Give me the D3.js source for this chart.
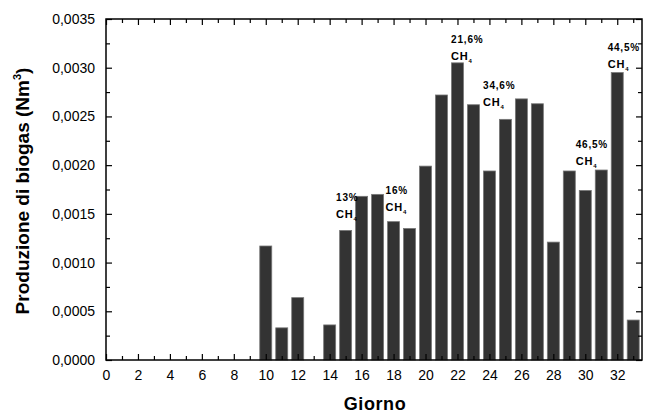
<!DOCTYPE html>
<html>
<head>
<meta charset="utf-8">
<script src="https://cdn.jsdelivr.net/npm/d3@7"></script>
<style>
  body { margin: 0; background: #fff; }
  text { font-family: "Liberation Sans", Arial, sans-serif; }
</style>
</head>
<body>
<div id="chart"></div>
<script>
// giorni e produzione di biogas (Nm3)
const days = [10, 11, 12, 13, 14, 15, 16, 17, 18, 19, 20, 21, 22, 23, 24, 25, 26, 27, 28, 29, 30, 31, 32, 33];
const biogas = [0.00117, 0.00033, 0.00064, 0, 0.00036, 0.00133, 0.00168, 0.00170, 0.00142, 0.00135,
                0.00199, 0.00272, 0.00305, 0.00262, 0.00194, 0.00247, 0.00268, 0.00263, 0.00121,
                0.00194, 0.00174, 0.00195, 0.00295, 0.00041];
const xTicks = d3.range(0, 34, 2);
const yTicks = d3.range(0, 0.00351, 0.0005);
// annotazioni percentuale CH4 (posizione in unità dei dati)
const noteText = ["13%", "16%", "21,6%", "34,6%", "46,5%", "44,5%"];
const noteDay = [14.4, 17.5, 21.6, 23.6, 29.4, 31.4];
const noteVal = [0.00163, 0.00170, 0.00325, 0.00278, 0.00218, 0.00317];

const W = 649, H = 415;
const margin = {top: 19, right: 7, bottom: 55, left: 106};
const width = W - margin.left - margin.right,
      height = H - margin.top - margin.bottom;

const svg = d3.select("#chart").append("svg")
    .attr("width", W).attr("height", H);
const g = svg.append("g")
    .attr("transform", "translate(" + margin.left + "," + margin.top + ")");

const x = d3.scaleLinear().domain([0, 33.55]).range([0, width]);
const y = d3.scaleLinear().domain([0, 0.0035]).range([height, 0]);
const bw = x(0.75) - x(0);

// barre
g.selectAll("rect.bar")
    .data(days.map((d, i) => ({day: d, v: biogas[i]})).filter(d => d.v > 0))
    .enter().append("rect")
    .attr("class", "bar")
    .attr("x", d => x(d.day) - bw / 2)
    .attr("y", d => y(d.v))
    .attr("width", bw)
    .attr("height", d => height - y(d.v))
    .attr("fill", "#333")
    .attr("stroke", "#777")
    .attr("stroke-width", 0.8);

// cornice
g.append("rect")
    .attr("width", width).attr("height", height)
    .attr("fill", "none").attr("stroke", "#000").attr("stroke-width", 1.5);

const fmt = d => d3.format(".4f")(d).replace(".", ",");
const minorX = d3.range(1, 34, 2);
const minorY = d3.range(0.00025, 0.0035, 0.0005);

// assi inferiore e sinistro con tacche interne
g.append("g").attr("transform", "translate(0," + height + ")")
    .call(d3.axisBottom(x).tickValues(xTicks).tickSize(-6).tickPadding(10).tickFormat(d3.format("d")));
g.append("g").attr("transform", "translate(0," + height + ")")
    .call(d3.axisBottom(x).tickValues(minorX).tickSize(-4).tickFormat(""));
g.append("g")
    .call(d3.axisLeft(y).tickValues(yTicks).tickSize(-6).tickPadding(11).tickFormat(fmt));
g.append("g")
    .call(d3.axisLeft(y).tickValues(minorY).tickSize(-4).tickFormat(""));
// assi superiore e destro
g.append("g")
    .call(d3.axisTop(x).tickValues(xTicks).tickSize(-6).tickFormat(""));
g.append("g")
    .call(d3.axisTop(x).tickValues(minorX).tickSize(-4).tickFormat(""));
g.append("g").attr("transform", "translate(" + width + ",0)")
    .call(d3.axisRight(y).tickValues(yTicks).tickSize(-6).tickFormat(""));
g.append("g").attr("transform", "translate(" + width + ",0)")
    .call(d3.axisRight(y).tickValues(minorY).tickSize(-4).tickFormat(""));

g.selectAll(".domain").remove();
g.selectAll(".tick line").attr("stroke", "#000").attr("stroke-width", 1.2);
g.selectAll(".tick text").attr("font-size", 14).attr("fill", "#000")
    .attr("font-family", "'Liberation Sans', Arial, sans-serif");

// annotazioni
const ann = g.selectAll("g.note").data(noteText).enter().append("g")
    .attr("class", "note")
    .attr("transform", (d, i) => "translate(" + x(noteDay[i]) + "," + y(noteVal[i]) + ")");
ann.append("text")
    .attr("font-size", 10).attr("font-weight", "bold")
    .attr("letter-spacing", 0.8)
    .text(d => d);
const ch = ann.append("text")
    .attr("y", 17)
    .attr("font-size", 11).attr("font-weight", "bold")
    .attr("letter-spacing", 0.8);
ch.append("tspan").text("CH");
ch.append("tspan").attr("dy", 3).attr("font-size", 6).text("4");

// titoli assi
svg.append("text")
    .attr("x", 375).attr("y", 410)
    .attr("text-anchor", "middle")
    .attr("font-size", 18).attr("font-weight", "bold")
    .attr("letter-spacing", 0.6)
    .text("Giorno");
const yl = svg.append("text")
    .attr("transform", "translate(29,191) rotate(-90)")
    .attr("text-anchor", "middle")
    .attr("font-size", 19).attr("font-weight", "bold");
yl.append("tspan").text("Produzione di biogas (Nm");
yl.append("tspan").attr("dy", -8).attr("font-size", 11).text("3");
yl.append("tspan").attr("dy", 8).text(")");
</script>
</body>
</html>
